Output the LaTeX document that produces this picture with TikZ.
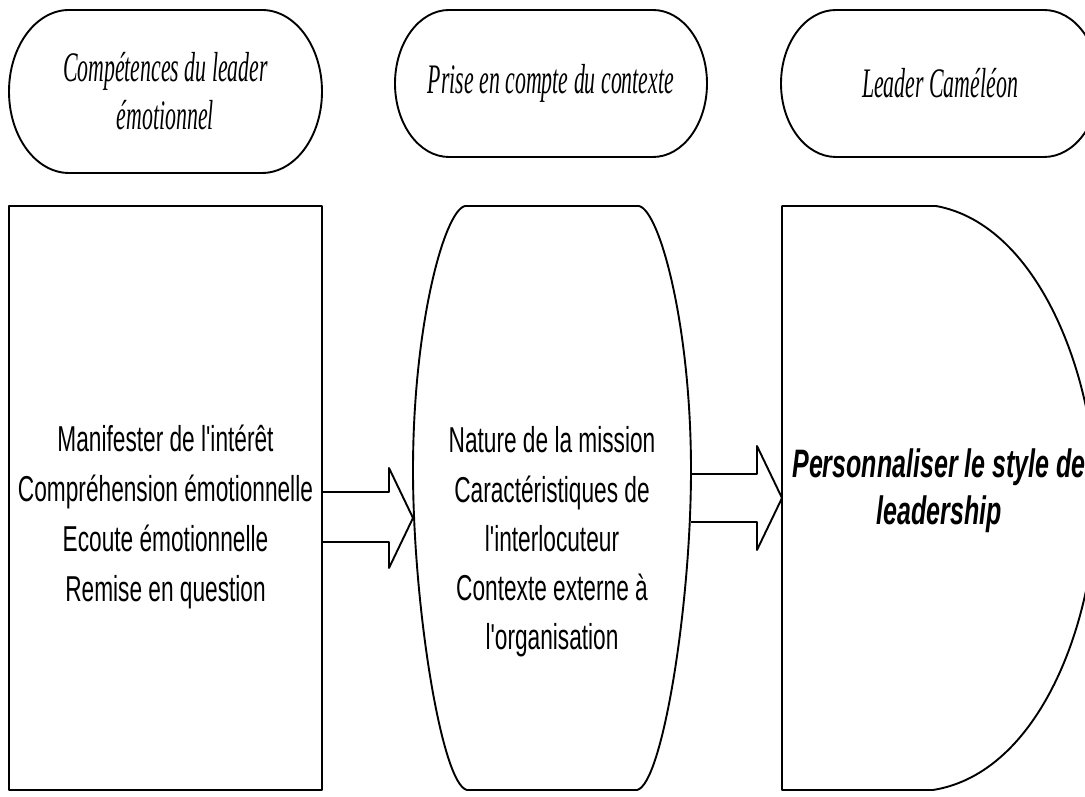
\documentclass[tikz,border=0pt]{standalone}
\usepackage{fontspec}
\usetikzlibrary{calc}
\newfontfamily\headfont{Liberation Serif}[FakeStretch=0.52]
\newfontfamily\bodyfont{Liberation Sans}[FakeStretch=0.63,Ligatures=TeXOff]

\begin{document}
\begin{tikzpicture}[
  x=1pt, y=1pt,
  line join=round,
  frame/.style={draw=black, line width=1.9pt},
  head/.style={draw=none, outer sep=0pt, inner sep=0pt, align=center,
               font=\headfont\itshape\fontsize{42}{48}\selectfont},
  panel/.style={draw=none, outer sep=0pt, inner sep=0pt, minimum height=584},
  bodytext/.style={inner sep=0pt, align=center, font=\bodyfont\fontsize{36}{50}\selectfont},
  resulttext/.style={inner sep=0pt, align=center,
                     font=\bodyfont\bfseries\itshape\fontsize{39.7}{47}\selectfont},
  blockarrow/.style={draw=black, line width=1.9pt}
]
\fill[white] (0,0) rectangle (1085,797);
\useasboundingbox (0,0) rectangle (1085,797);

% Row 1 -- the three headers
\node[head, minimum width=313, minimum height=163] (h1) at (165.5,705.5) {Compétences du leader\\émotionnel};
\node[head, minimum width=312, minimum height=147] (h2) at (551,713.5) {Prise en compte du contexte};
\node[head, minimum width=318, minimum height=147] (h3) at (940,713.5) {Leader Caméléon};

\foreach \hd/\rx/\ry in {h1/60/81.5, h2/54/73.5, h3/55/73.5}
  \draw[frame] ($(\hd.north west)+(\rx,0)$) -- ($(\hd.north east)+(-\rx,0)$)
    arc[start angle=90, end angle=-90, x radius=\rx, y radius=\ry]
    -- ($(\hd.south west)+(\rx,0)$)
    arc[start angle=270, end angle=90, x radius=\rx, y radius=\ry] -- cycle;

% Row 2 -- the three panels
\node[panel, frame, minimum width=313] (b1) at (165.5,299) {};
\node[panel, minimum width=278] (b2) at (552,299) {};
\node[panel, minimum width=314] (b3) at (939,299) {};

\node[bodytext] (t1) at ($(b1)+(0,-19)$)
  {Manifester de l'intérêt\\Compréhension émotionnelle\\Ecoute émotionnelle\\Remise en question};
\node[bodytext, font=\bodyfont\fontsize{36}{49.2}\selectfont] (t2) at ($(b2)+(0,-44)$)
  {Nature de la mission\\Caractéristiques de\\l'interlocuteur\\Contexte externe à\\l'organisation};
\node[resulttext] (t3) at ($(b3)+(0,7.5)$) {Personnaliser le style de\\leadership};

% barrel round the context
\draw[frame] (465,591) -- (639,591)
  .. controls (660,586) and (691,470) .. (691,327)
  .. controls (691,190) and (662,12) .. (637,7)
  -- (467,7)
  .. controls (442,12) and (413,190) .. (413,327)
  .. controls (413,470) and (444,586) .. (465,591) -- cycle;

% half disc round the result
\draw[frame] (782,591) -- (936,591)
  .. controls (1040,572) and (1096,417) .. (1096,299)
  .. controls (1096,177) and (1040,24) .. (933,7)
  -- (782,7) -- cycle;

% block arrows
\coordinate (tip1) at ($(b2.west)+(0,-20)$);
\draw[blockarrow] ($(b1.east |- tip1)+(0,26)$) -- ++(67,0) -- ++(0,24) -- (tip1)
  -- ++(-24,-50) -- ++(0,26) -- ++(-67,0);
\draw[blockarrow] ($(b2.east |- b3.west)+(0,24)$) -- ++(66,0) -- ++(0,28) -- (b3.west)
  -- ++(-25,-52) -- ++(0,28) -- ++(-66,0);

\end{tikzpicture}
\end{document}
